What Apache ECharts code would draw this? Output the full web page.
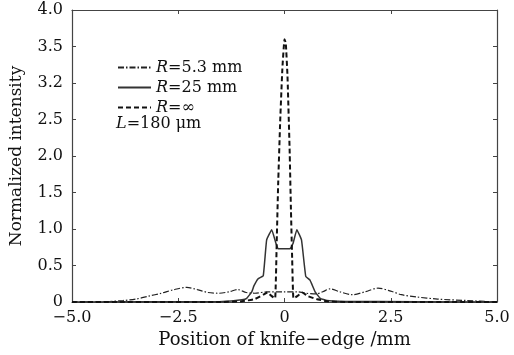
<!DOCTYPE html>
<html>
<head>
<meta charset="utf-8">
<script src="https://cdn.jsdelivr.net/npm/echarts@6/dist/echarts.min.js"></script>
<style>
  html, body { margin: 0; padding: 0; background: #fff; }
  #chart { width: 514px; height: 355px; }
</style>
</head>
<body>
<div id="chart"></div>
<script>
// knife-edge scan, L = 180 um
const xTicks = [-5, -2.5, 0, 2.5, 5];
const xTickLabels = ['\u22125.0', '\u22122.5', '0', '2.5', '5.0'];
const yTickLabels = ['0', '0.5', '1.0', '1.5', '2.0', '2.5', '3.2', '3.5', '4.0'];

const xR53 = [-5, -4.2, -3.8, -3.5, -3.2, -2.9, -2.6, -2.3, -2.05, -1.8, -1.55, -1.3, -1.1, -0.9, -0.7, -0.4, 0, 0.3, 0.5, 0.75, 0.9, 1.07, 1.3, 1.6, 1.9, 2.2, 2.5, 2.75, 3.1, 3.6, 4.3, 5];
const yR53 = [0, 0.005, 0.02, 0.04, 0.08, 0.12, 0.17, 0.2, 0.17, 0.13, 0.12, 0.14, 0.17, 0.13, 0.12, 0.14, 0.14, 0.14, 0.12, 0.11, 0.14, 0.18, 0.14, 0.1, 0.14, 0.19, 0.15, 0.1, 0.07, 0.04, 0.02, 0];

const xR25 = [-5, -1.6, -1.25, -1.0, -0.89, -0.77, -0.72, -0.62, -0.5, -0.42, -0.3, -0.2, -0.15, 0, 0.13, 0.2, 0.29, 0.4, 0.5, 0.6, 0.72, 0.84, 1.0, 1.3, 5];
const yR25 = [0, 0.005, 0.015, 0.03, 0.05, 0.14, 0.22, 0.32, 0.36, 0.85, 0.99, 0.8, 0.73, 0.73, 0.73, 0.8, 0.99, 0.85, 0.35, 0.3, 0.14, 0.05, 0.02, 0.01, 0];

const xRinf = [-5, -1.5, -1.0, -0.7, -0.5, -0.4, -0.3, -0.22, -0.18, -0.15, -0.1, -0.05, 0, 0.03, 0.07, 0.12, 0.15, 0.18, 0.21, 0.3, 0.42, 0.55, 0.75, 1.0, 1.5, 5];
const yRinf = [0, 0, 0.01, 0.04, 0.1, 0.13, 0.08, 0.05, 0.9, 1.6, 2.5, 3.2, 3.6, 3.55, 3.1, 2.1, 1.3, 0.6, 0.05, 0.08, 0.13, 0.08, 0.04, 0.01, 0, 0];

const pairs = (xs, ys) => xs.map((x, i) => [x, ys[i]]);

const font = 'DejaVu Serif';
const chart = echarts.init(document.getElementById('chart'));

const axisLine = { show: true, onZero: false, lineStyle: { color: '#444', width: 1.2 } };
const tickIn = { show: true, inside: true, length: 4, lineStyle: { color: '#444' } };

chart.setOption({
  backgroundColor: '#fff',
  animation: false,
  grid: { left: 72, right: 17, top: 10, bottom: 53 },
  legend: {
    orient: 'vertical',
    left: 112,
    top: 54,
    itemWidth: 33,
    itemHeight: 10,
    itemGap: 3,
    itemStyle: { opacity: 0 },
    textStyle: {
      fontFamily: font,
      fontSize: 16,
      lineHeight: 17,
      color: '#111',
      rich: { i: { fontFamily: font, fontStyle: 'italic', fontSize: 16, lineHeight: 17, color: '#111' } }
    },
    formatter: name => '{i|R}' + name.slice(1)
  },
  graphic: [{
    type: 'text',
    left: 116,
    top: 116,
    style: {
      text: '{i|L}=180 \u03bcm',
      font: '16px ' + font,
      fill: '#111',
      rich: { i: { fontFamily: font, fontStyle: 'italic', fontSize: 16, fill: '#111' } }
    }
  }],
  xAxis: [{
    type: 'value',
    min: -5, max: 5, interval: 2.5,
    axisLine, axisTick: tickIn,
    splitLine: { show: false },
    axisLabel: {
      fontFamily: font, fontSize: 16, color: '#111', margin: 8,
      formatter: v => xTickLabels[xTicks.indexOf(v)]
    },
    name: 'Position of knife\u2212edge /mm',
    nameLocation: 'middle',
    nameGap: 29,
    nameTextStyle: { fontFamily: font, fontSize: 18, color: '#111' }
  }, {
    type: 'value', position: 'top',
    min: -5, max: 5, interval: 2.5,
    axisLine, axisTick: tickIn, axisLabel: { show: false }, splitLine: { show: false }
  }],
  yAxis: [{
    type: 'value',
    min: 0, max: 4, interval: 0.5,
    axisLine, axisTick: tickIn,
    splitLine: { show: false },
    axisLabel: {
      fontFamily: font, fontSize: 16, color: '#111', margin: 9,
      formatter: v => yTickLabels[Math.round(v / 0.5)]
    },
    name: 'Normalized intensity',
    nameLocation: 'middle',
    nameGap: 47,
    nameTextStyle: { fontFamily: font, fontSize: 17, color: '#111' }
  }, {
    type: 'value', position: 'right',
    min: 0, max: 4, interval: 0.5,
    axisLine, axisTick: tickIn, axisLabel: { show: false }, splitLine: { show: false }
  }],
  series: [{
    name: 'R=5.3 mm',
    type: 'line',
    data: pairs(xR53, yR53),
    symbol: 'none',
    smooth: 0.3,
    color: '#222',
    lineStyle: { color: '#222', width: 1.2, type: [6, 2, 1.5, 2] }
  }, {
    name: 'R=25 mm',
    type: 'line',
    data: pairs(xR25, yR25),
    symbol: 'none',
    smooth: 0.1,
    color: '#333',
    lineStyle: { color: '#333', width: 1.5, type: 'solid' }
  }, {
    name: 'R=\u221e',
    type: 'line',
    data: pairs(xRinf, yRinf),
    symbol: 'none',
    smooth: 0.1,
    color: '#111',
    lineStyle: { color: '#111', width: 2, type: [5, 3] }
  }]
});
</script>
</body>
</html>
